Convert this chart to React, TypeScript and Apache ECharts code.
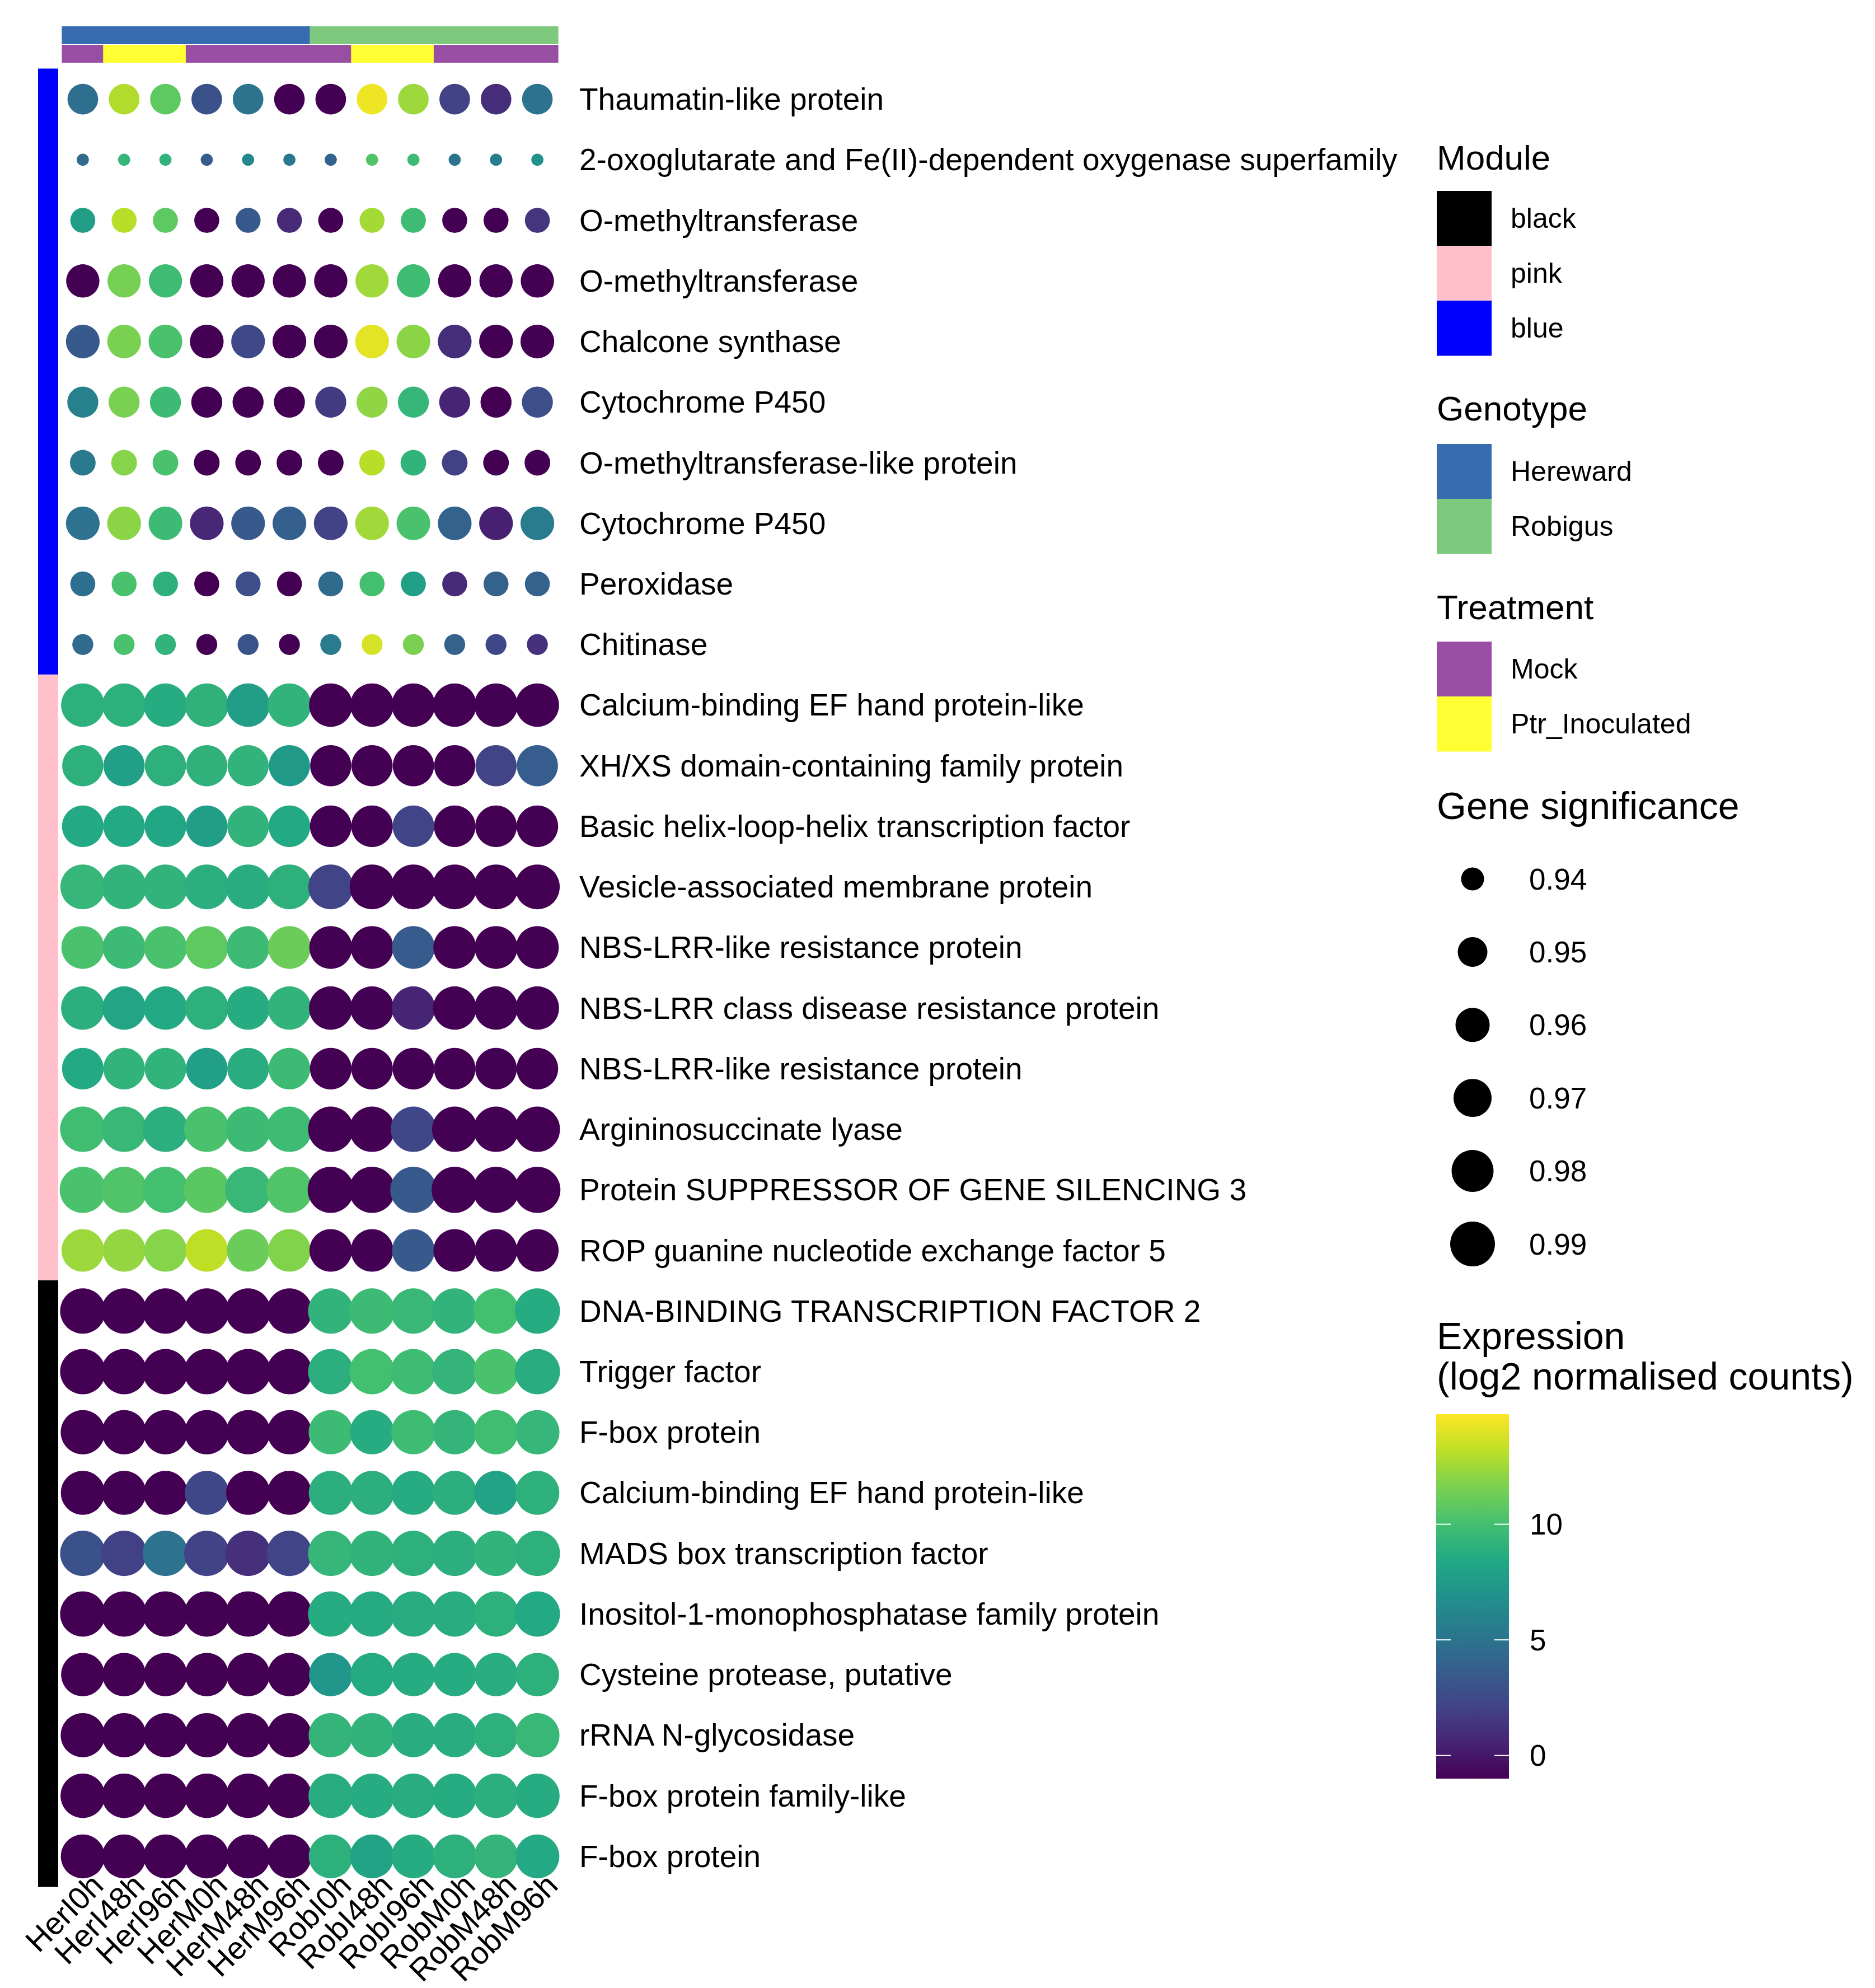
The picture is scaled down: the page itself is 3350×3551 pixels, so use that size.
import React, { useEffect, useRef } from "react";
import * as echarts from "echarts";

// ---------------- data ----------------
const SAMPLES = ["HerI0h", "HerI48h", "HerI96h", "HerM0h", "HerM48h", "HerM96h", "RobI0h", "RobI48h", "RobI96h", "RobM0h", "RobM48h", "RobM96h"];
const GENOTYPE = ["Hereward", "Hereward", "Hereward", "Hereward", "Hereward", "Hereward", "Robigus", "Robigus", "Robigus", "Robigus", "Robigus", "Robigus"];
const TREATMENT = ["Mock", "Ptr_Inoculated", "Ptr_Inoculated", "Mock", "Mock", "Mock", "Mock", "Ptr_Inoculated", "Ptr_Inoculated", "Mock", "Mock", "Mock"];

const GENES_BLUE = [
  "Thaumatin-like protein",
  "2-oxoglutarate and Fe(II)-dependent oxygenase superfamily",
  "O-methyltransferase",
  "O-methyltransferase",
  "Chalcone synthase",
  "Cytochrome P450",
  "O-methyltransferase-like protein",
  "Cytochrome P450",
  "Peroxidase",
  "Chitinase",
];
const GENES_PINK = [
  "Calcium-binding EF hand protein-like",
  "XH/XS domain-containing family protein",
  "Basic helix-loop-helix transcription factor",
  "Vesicle-associated membrane protein",
  "NBS-LRR-like resistance protein",
  "NBS-LRR class disease resistance protein",
  "NBS-LRR-like resistance protein",
  "Argininosuccinate lyase",
  "Protein SUPPRESSOR OF GENE SILENCING 3",
  "ROP guanine nucleotide exchange factor 5",
];
const GENES_BLACK = [
  "DNA-BINDING TRANSCRIPTION FACTOR 2",
  "Trigger factor",
  "F-box protein",
  "Calcium-binding EF hand protein-like",
  "MADS box transcription factor",
  "Inositol-1-monophosphatase family protein",
  "Cysteine protease, putative",
  "rRNA N-glycosidase",
  "F-box protein family-like",
  "F-box protein",
];

// gene significance per row
const GS_BLUE = [0.952, 0.924, 0.943, 0.958, 0.959, 0.953, 0.944, 0.959, 0.943, 0.937];
const GS_PINK = [0.985, 0.978, 0.979, 0.99, 0.983, 0.985, 0.979, 0.992, 0.995, 0.982];
const GS_BLACK = [0.992, 0.992, 0.988, 0.987, 0.992, 0.992, 0.985, 0.988, 0.989, 0.987];

// expression (log2 normalised counts), one row per gene, columns follow SAMPLES
const EXPR_BLUE = [
  [4.7, 12.9, 10.8, 2.9, 5.0, -1, -1, 14.4, 12.4, 2.1, 1.0, 4.9],
  [4.5, 9.4, 9.2, 3.6, 6.3, 5.3, 4.0, 10.4, 9.7, 5.0, 5.6, 6.9],
  [7.8, 13.1, 10.8, -1, 3.4, 0.9, -1, 12.6, 9.8, -1, -1, 1.4],
  [-1, 11.5, 9.8, -1, -1, -1, -1, 12.5, 9.8, -1, -1, -1],
  [3.4, 11.6, 10.2, -1, 2.4, -1, -1, 14.1, 12.0, 1.0, -1, -1],
  [5.9, 11.6, 9.7, -1, -1, -1, 1.7, 12.1, 9.4, 0.6, -1, 2.8],
  [5.4, 11.9, 10.2, -1, -1, -1, -1, 13.1, 9.2, 2.0, -1, -1],
  [4.9, 12.0, 9.7, 0.7, 3.4, 3.7, 2.1, 12.5, 10.2, 4.0, 0.4, 5.5],
  [4.7, 10.2, 9.0, -1, 2.8, -1, 4.4, 10.0, 7.9, 0.9, 4.0, 4.0],
  [4.5, 10.2, 9.2, -1, 3.1, -1, 5.5, 13.8, 11.6, 3.9, 2.3, 1.2],
];
const EXPR_PINK = [
  [9.0, 9.0, 8.7, 9.1, 7.7, 9.2, -1, -1, -1, -1, -1, -1],
  [9.0, 7.9, 9.0, 9.1, 9.2, 7.4, -1, -1, -1, -1, 2.2, 3.6],
  [8.5, 8.5, 8.4, 7.7, 9.2, 8.5, -1, -1, 2.2, -1, -1, -1],
  [9.4, 9.2, 9.2, 8.9, 8.8, 9.0, 2.2, -1, -1, -1, -1, -1],
  [10.2, 9.7, 10.2, 10.8, 9.7, 11.2, -1, -1, 3.5, -1, -1, -1],
  [8.9, 8.2, 8.5, 9.0, 8.7, 9.2, -1, -1, 0.6, -1, -1, -1],
  [8.5, 9.2, 9.2, 7.9, 8.8, 9.7, -1, -1, -1, -1, -1, -1],
  [9.9, 9.5, 8.9, 10.2, 9.7, 9.8, -1, -1, 2.3, -1, -1, -1],
  [10.2, 10.4, 10.0, 10.7, 9.5, 10.4, -1, -1, 3.4, -1, -1, -1],
  [12.4, 12.2, 11.9, 13.2, 11.2, 11.8, -1, -1, 3.4, -1, -1, -1],
];
const EXPR_BLACK = [
  [-1, -1, -1, -1, -1, -1, 9.2, 9.7, 9.5, 9.2, 10.0, 8.7],
  [-1, -1, -1, -1, -1, -1, 8.9, 10.0, 9.8, 9.3, 10.2, 8.8],
  [-1, -1, -1, -1, -1, -1, 9.7, 8.7, 9.8, 9.3, 9.9, 9.4],
  [-1, -1, -1, 2.3, -1, -1, 8.9, 8.9, 8.7, 8.9, 8.1, 9.0],
  [2.9, 2.0, 4.9, 2.1, 1.1, 2.2, 9.4, 9.2, 9.0, 8.9, 9.2, 9.0],
  [-1, -1, -1, -1, -1, -1, 8.7, 8.6, 8.8, 8.8, 9.0, 8.5],
  [-1, -1, -1, -1, -1, -1, 7.2, 8.6, 8.7, 8.7, 8.8, 9.0],
  [-1, -1, -1, -1, -1, -1, 9.3, 9.2, 8.8, 8.8, 9.0, 9.5],
  [-1, -1, -1, -1, -1, -1, 8.8, 8.7, 8.8, 8.7, 8.9, 8.7],
  [-1, -1, -1, -1, -1, -1, 9.0, 8.1, 8.7, 9.0, 9.3, 8.5],
];

const MODULE_LEGEND = ["black", "pink", "blue"];
const GENOTYPE_LEGEND = ["Hereward", "Robigus"];
const TREATMENT_LEGEND = ["Mock", "Ptr_Inoculated"];
const SIZE_BREAKS = [0.94, 0.95, 0.96, 0.97, 0.98, 0.99];
const EXPR_TICKS = [0, 5, 10];
const EXPR_MIN = -1;
const EXPR_MAX = 14.76;

// ---------------- styles ----------------
const MODULE_COLORS: Record<string, string> = { black: "#000000", pink: "#FFC0CB", blue: "#0000FF" };
const GENOTYPE_COLORS: Record<string, string> = { Hereward: "#386CB0", Robigus: "#7FC97F" };
const TREATMENT_COLORS: Record<string, string> = { Mock: "#984EA3", Ptr_Inoculated: "#FFFF33" };
const VIRIDIS = ["#440154", "#482475", "#414487", "#355f8d", "#2a788e", "#21918c", "#22a884", "#44bf70", "#7ad151", "#bddf26", "#fde725"];
const SIZE_PX = [41, 53, 61, 68, 75, 80];
const FONT = "Liberation Sans";

function sizeScale(g: number): number {
  const b = SIZE_BREAKS;
  let i = 0;
  if (g <= b[0]) i = 0;
  else if (g >= b[b.length - 1]) i = b.length - 2;
  else {
    while (i < b.length - 2 && g > b[i + 1]) i++;
  }
  const t = (g - b[i]) / (b[i + 1] - b[i]);
  return SIZE_PX[i] + t * (SIZE_PX[i + 1] - SIZE_PX[i]);
}

const W = 3350;
const H = 3551;
const GRID = { left: 111, top: 123, width: 886, height: 3247 };
const GENO_BAR = { top: 47, height: 32 };
const TREAT_BAR = { top: 80, height: 32 };
const MOD_BAR = { left: 68, width: 36 };
const XLABEL_SHIFT = 26;

export default function App() {
  const ref = useRef<HTMLDivElement>(null);
  useEffect(() => {
    document.body.style.margin = "0";
    if (!ref.current) return;
    const chart = echarts.init(ref.current, null, { renderer: "svg" });

    const GENES = [...GENES_BLUE, ...GENES_PINK, ...GENES_BLACK];
    const GS = [...GS_BLUE, ...GS_PINK, ...GS_BLACK];
    const EXPR = [...EXPR_BLUE, ...EXPR_PINK, ...EXPR_BLACK];
    const ROW_MODULE = [
      ...GENES_BLUE.map(() => "blue"),
      ...GENES_PINK.map(() => "pink"),
      ...GENES_BLACK.map(() => "black"),
    ];

    const dots: any[] = [];
    EXPR.forEach((row, r) => {
      row.forEach((v, c) => {
        dots.push([c, r, v, GS[r]]);
      });
    });

    const rectRender = (colorOf: (i: number) => string, horizontal: boolean) =>
      (params: any, api: any) => {
        const i = api.value(0);
        let x0, y0, x1, y1;
        if (horizontal) {
          const p0 = api.coord([i, 0]);
          const p1 = api.coord([i + 1, 1]);
          x0 = p0[0] - 0.6; x1 = p1[0] + 0.6; y0 = p1[1]; y1 = p0[1];
        } else {
          const p0 = api.coord([0, i]);
          const p1 = api.coord([1, i + 1]);
          x0 = p0[0]; x1 = p1[0]; y0 = p0[1] - 0.6; y1 = p1[1] + 0.6;
        }
        return {
          type: "rect",
          shape: { x: Math.min(x0, x1), y: Math.min(y0, y1), width: Math.abs(x1 - x0), height: Math.abs(y1 - y0) },
          style: { fill: colorOf(params.dataIndex) },
        };
      };

    // ---------- legends (graphic) ----------
    const LX = 2567;
    const SW = 98;
    const LABX = 2699;
    const graphic: any[] = [];
    const title = (text: string, y: number, size = 62) =>
      graphic.push({
        type: "text", x: LX, y,
        style: { text, fontSize: size, fontFamily: FONT, fill: "#000", align: "left", verticalAlign: "middle" },
      });
    const label = (text: string, x: number, y: number, size = 50) =>
      graphic.push({
        type: "text", x, y,
        style: { text, fontSize: size, fontFamily: FONT, fill: "#000", align: "left", verticalAlign: "middle" },
      });
    const swatches = (items: string[], colors: Record<string, string>, top: number) => {
      items.forEach((it, k) => {
        graphic.push({ type: "rect", shape: { x: LX, y: top + k * SW, width: SW, height: SW + 0.5 }, style: { fill: colors[it] } });
        label(it, LABX, top + k * SW + SW / 2);
      });
    };

    title("Module", 281);
    swatches(MODULE_LEGEND, MODULE_COLORS, 341);
    title("Genotype", 729);
    swatches(GENOTYPE_LEGEND, GENOTYPE_COLORS, 793);
    title("Treatment", 1084);
    swatches(TREATMENT_LEGEND, TREATMENT_COLORS, 1146);

    title("Gene significance", 1439, 68);
    SIZE_BREAKS.forEach((g, k) => {
      const cy = 1570 + k * 130.4;
      graphic.push({ type: "circle", shape: { cx: 2631, cy, r: sizeScale(g) / 2 }, style: { fill: "#000" } });
      label(g.toFixed(2), 2732, cy, 53);
    });

    title("Expression", 2386, 68);
    title("(log2 normalised counts)", 2458, 68);
    const CB = { x: 2566, y: 2526, w: 130, h: 651 };
    const vy = (v: number) => CB.y + ((EXPR_MAX - v) / (EXPR_MAX - EXPR_MIN)) * CB.h;
    graphic.push({
      type: "rect",
      shape: { x: CB.x, y: CB.y, width: CB.w, height: CB.h },
      style: {
        fill: new echarts.graphic.LinearGradient(0, 0, 0, 1,
          VIRIDIS.slice().reverse().map((c, i) => ({ offset: i / (VIRIDIS.length - 1), color: c }))),
      },
    });
    EXPR_TICKS.forEach((t) => {
      const y = vy(t);
      graphic.push({ type: "line", shape: { x1: CB.x, y1: y, x2: CB.x + 26, y2: y }, style: { stroke: "#ffffff", lineWidth: 2 } });
      graphic.push({ type: "line", shape: { x1: CB.x + CB.w - 26, y1: y, x2: CB.x + CB.w, y2: y }, style: { stroke: "#ffffff", lineWidth: 2 } });
      label(String(t), 2733, y, 53);
    });

    const hidden = { show: false };

    chart.setOption({
      animation: false,
      backgroundColor: "#ffffff",
      grid: [
        { left: GRID.left, top: GRID.top, width: GRID.width, height: GRID.height },
        { left: GRID.left, top: GENO_BAR.top, width: GRID.width, height: GENO_BAR.height },
        { left: GRID.left, top: TREAT_BAR.top, width: GRID.width, height: TREAT_BAR.height },
        { left: MOD_BAR.left, top: GRID.top, width: MOD_BAR.width, height: GRID.height },
        { left: GRID.left + XLABEL_SHIFT, top: GRID.top, width: GRID.width, height: GRID.height },
      ],
      xAxis: [
        {
          type: "category", gridIndex: 0, data: SAMPLES, position: "bottom",
          axisLine: hidden, axisTick: hidden, splitLine: hidden, axisLabel: hidden,
        },
        { type: "value", gridIndex: 1, min: 0, max: SAMPLES.length, show: false },
        { type: "value", gridIndex: 2, min: 0, max: SAMPLES.length, show: false },
        { type: "value", gridIndex: 3, min: 0, max: 1, show: false },
        {
          type: "category", gridIndex: 4, data: SAMPLES, position: "bottom",
          axisLine: hidden, axisTick: hidden, splitLine: hidden,
          axisLabel: { rotate: 45, interval: 0, margin: -8, fontSize: 56, fontFamily: FONT, color: "#000" },
        },
      ],
      yAxis: [
        {
          type: "category", gridIndex: 0, inverse: true, position: "right",
          data: GENES.map((_, i) => String(i)),
          axisLine: hidden, axisTick: hidden, splitLine: hidden,
          axisLabel: {
            interval: 0, margin: 38, fontSize: 55, fontFamily: FONT, color: "#000", align: "left",
            formatter: (v: string) => GENES[Number(v)],
          },
        },
        { type: "value", gridIndex: 1, min: 0, max: 1, show: false },
        { type: "value", gridIndex: 2, min: 0, max: 1, show: false },
        { type: "value", gridIndex: 3, min: 0, max: GENES.length, inverse: true, show: false },
        { type: "value", gridIndex: 4, min: 0, max: 1, show: false },
      ],
      visualMap: {
        type: "continuous", show: false, dimension: 2, seriesIndex: 0,
        min: EXPR_MIN, max: EXPR_MAX, inRange: { color: VIRIDIS },
      },
      series: [
        {
          type: "scatter", xAxisIndex: 0, yAxisIndex: 0, data: dots,
          symbol: "circle",
          symbolSize: (val: number[]) => sizeScale(val[3]),
          itemStyle: { opacity: 1 },
          silent: true,
        },
        {
          type: "custom", xAxisIndex: 1, yAxisIndex: 1, clip: false, silent: true,
          data: GENOTYPE.map((_, i) => [i, 0]),
          renderItem: rectRender((i) => GENOTYPE_COLORS[GENOTYPE[i]], true),
        },
        {
          type: "custom", xAxisIndex: 2, yAxisIndex: 2, clip: false, silent: true,
          data: TREATMENT.map((_, i) => [i, 0]),
          renderItem: rectRender((i) => TREATMENT_COLORS[TREATMENT[i]], true),
        },
        {
          type: "custom", xAxisIndex: 3, yAxisIndex: 3, clip: false, silent: true,
          data: ROW_MODULE.map((_, i) => [i, 0]),
          encode: { y: 0 },
          renderItem: rectRender((i) => MODULE_COLORS[ROW_MODULE[i]], false),
        },
      ],
      graphic,
    });

    return () => chart.dispose();
  }, []);

  return <div ref={ref} style={{ width: W, height: H }} />;
}
